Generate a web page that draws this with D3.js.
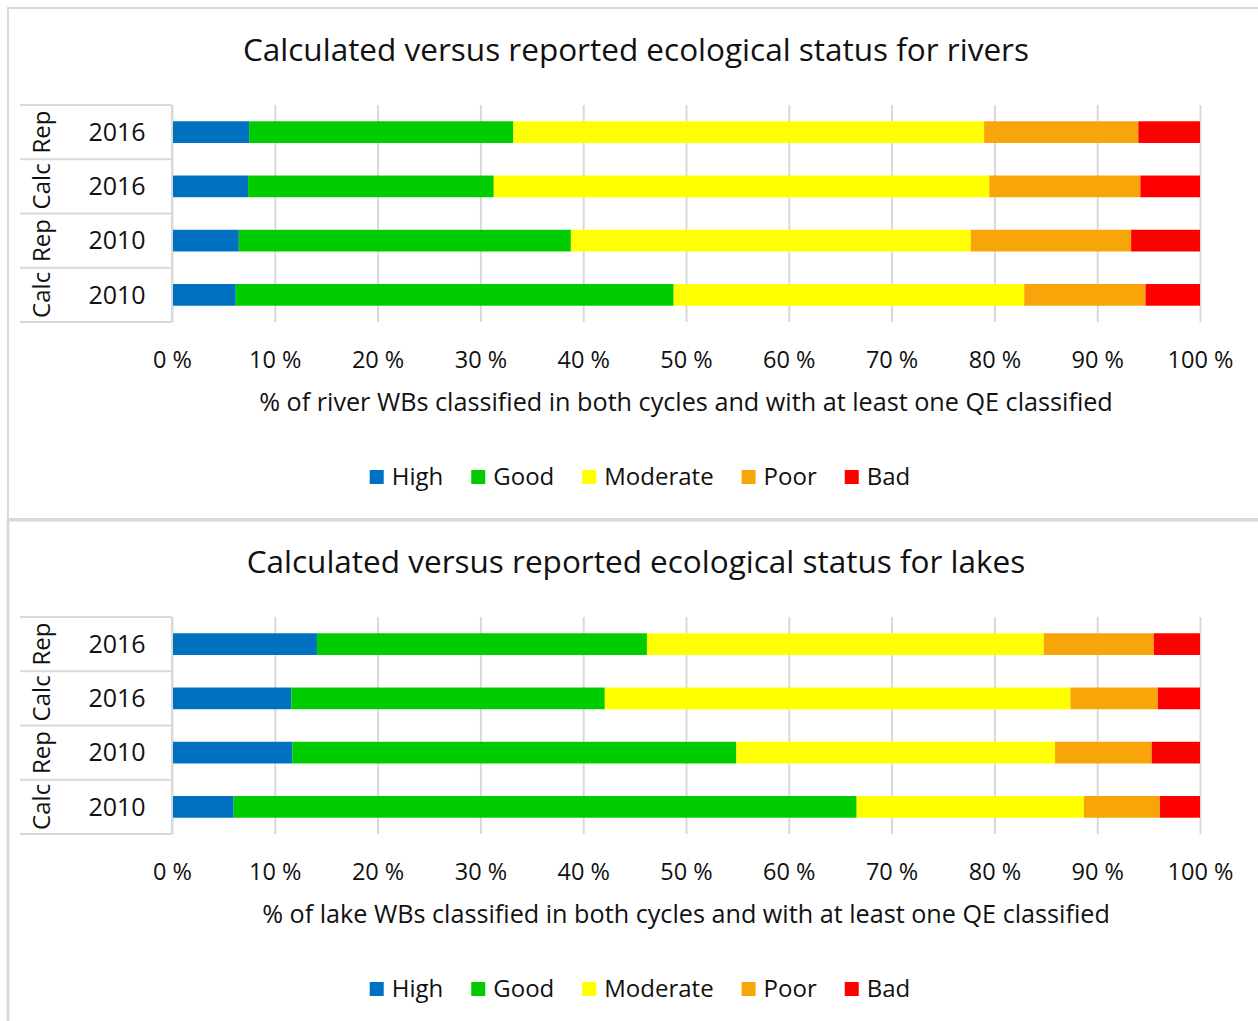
<!DOCTYPE html>
<html>
<head>
<meta charset="utf-8">
<script src="https://cdn.jsdelivr.net/npm/d3@7"></script>
<style>
  body { margin: 0; background: #fff; }
  svg { display: block; font-family: "Open Sans", Lato, sans-serif; }
</style>
</head>
<body>
<svg id="chart" width="1258" height="1021"></svg>
<script>
// row labels, top row first
var kinds = ["Rep", "Calc", "Rep", "Calc"];
var years = ["2016", "2016", "2010", "2010"];
var classes = ["High", "Good", "Moderate", "Poor", "Bad"];
var colors = ["#0070C0", "#00CC00", "#FFFF00", "#F8A50A", "#FF0000"];
var tickValues = [0, 10, 20, 30, 40, 50, 60, 70, 80, 90, 100];

// share (%) of each class, one array per row (Rep 2016, Calc 2016, Rep 2010, Calc 2010)
var riverRep2016 = [7.5, 25.7, 45.8, 15.0, 6.0];
var riverCalc2016 = [7.4, 23.9, 48.2, 14.7, 5.8];
var riverRep2010 = [6.5, 32.3, 38.9, 15.6, 6.7];
var riverCalc2010 = [6.2, 42.6, 34.1, 11.8, 5.3];

var lakeRep2016 = [14.1, 32.1, 38.6, 10.7, 4.5];
var lakeCalc2016 = [11.6, 30.5, 45.3, 8.5, 4.1];
var lakeRep2010 = [11.7, 43.2, 31.0, 9.4, 4.7];
var lakeCalc2010 = [6.0, 60.6, 22.1, 7.4, 3.9];

var svg = d3.select("svg#chart");

var margin = {left: 172, plotTop: 105, plotH: 217},
    plotW = 1028;

var x = d3.scaleLinear().domain([0, 100]).range([margin.left, margin.left + plotW]);

function drawPanel(offsetY, title, axisTitle, rows) {
    var g = svg.append("g").attr("transform", "translate(0," + offsetY + ")");

    var y = d3.scaleBand()
        .domain(d3.range(rows.length))
        .range([margin.plotTop, margin.plotTop + margin.plotH])
        .paddingInner(0.6)
        .paddingOuter(0.3);

    g.append("text")
        .attr("x", 636).attr("y", 50)
        .attr("dy", "0.35em")
        .attr("text-anchor", "middle")
        .attr("font-size", 31.5)
        .attr("fill", "#111")
        .text(title);

    // gridlines + tick labels
    var axis = g.append("g")
        .attr("transform", "translate(0," + (margin.plotTop + margin.plotH) + ")")
        .call(d3.axisBottom(x)
            .tickValues(tickValues)
            .tickSize(-margin.plotH)
            .tickPadding(29)
            .tickFormat(function(d) { return d + " %"; }));
    axis.select(".domain").remove();
    axis.selectAll(".tick line").attr("stroke", "#d9d9d9").attr("stroke-width", 2);
    axis.selectAll(".tick text")
        .attr("font-size", 23.5)
        .attr("font-family", "'Open Sans', sans-serif")
        .attr("fill", "#111");

    // stacked bars
    rows.forEach(function(vals, i) {
        var stack = d3.cumsum(vals);
        g.selectAll(".seg" + i)
            .data(vals)
            .enter().append("rect")
            .attr("x", function(d, j) { return x(stack[j] - d); })
            .attr("width", function(d) { return x(d) - x(0); })
            .attr("y", y(i))
            .attr("height", y.bandwidth())
            .attr("fill", function(d, j) { return colors[j]; });
    });

    // category axis: separators and labels
    var step = y.step();
    var bounds = d3.range(rows.length + 1).map(function(k) { return margin.plotTop + k * step; });
    g.selectAll(".sep")
        .data(bounds)
        .enter().append("line")
        .attr("x1", 20).attr("x2", margin.left)
        .attr("y1", function(d) { return d; })
        .attr("y2", function(d) { return d; })
        .attr("stroke", "#d9d9d9").attr("stroke-width", 2);
    g.append("line")
        .attr("x1", margin.left).attr("x2", margin.left)
        .attr("y1", bounds[0]).attr("y2", bounds[rows.length])
        .attr("stroke", "#d9d9d9").attr("stroke-width", 2);

    rows.forEach(function(vals, i) {
        var cy = margin.plotTop + (i + 0.5) * step;
        g.append("text")
            .attr("x", 117).attr("y", cy)
            .attr("dy", "0.35em")
            .attr("text-anchor", "middle")
            .attr("font-size", 25)
            .attr("fill", "#111")
            .text(years[i]);
        g.append("text")
            .attr("transform", "translate(42," + cy + ") rotate(-90)")
            .attr("dy", "0.35em")
            .attr("text-anchor", "middle")
            .attr("font-size", 24)
            .attr("fill", "#111")
            .text(kinds[i]);
    });

    g.append("text")
        .attr("x", margin.left + plotW / 2).attr("y", 402)
        .attr("dy", "0.35em")
        .attr("text-anchor", "middle")
        .attr("font-size", 25.2)
        .attr("fill", "#111")
        .text(axisTitle);

    // legend
    var leg = g.append("g").attr("transform", "translate(0,477)");
    var items = leg.selectAll(".item")
        .data(classes)
        .enter().append("g");
    items.append("rect")
        .attr("y", -7).attr("width", 14).attr("height", 14)
        .attr("fill", function(d, j) { return colors[j]; });
    items.append("text")
        .attr("x", 22).attr("dy", "0.35em")
        .attr("font-size", 24)
        .attr("fill", "#111")
        .text(function(d) { return d; });
    var pos = 0, offs = [];
    items.each(function() {
        offs.push(pos);
        pos += 22 + d3.select(this).select("text").node().getComputedTextLength() + 28;
    });
    var total = pos - 28, start = 640 - total / 2;
    items.attr("transform", function(d, j) { return "translate(" + (start + offs[j]) + ",0)"; });
}

// panel frames
svg.append("rect").attr("x", 8).attr("y", 8).attr("width", 1300).attr("height", 511)
    .attr("fill", "none").attr("stroke", "#d9d9d9").attr("stroke-width", 2);
svg.append("rect").attr("x", 8).attr("y", 520).attr("width", 1300).attr("height", 600)
    .attr("fill", "none").attr("stroke", "#d9d9d9").attr("stroke-width", 3);

drawPanel(0, "Calculated versus reported ecological status for rivers",
    "% of river WBs classified in both cycles and with at least one QE classified",
    [riverRep2016, riverCalc2016, riverRep2010, riverCalc2010]);

drawPanel(512, "Calculated versus reported ecological status for lakes",
    "% of lake WBs classified in both cycles and with at least one QE classified",
    [lakeRep2016, lakeCalc2016, lakeRep2010, lakeCalc2010]);
</script>
</body>
</html>
